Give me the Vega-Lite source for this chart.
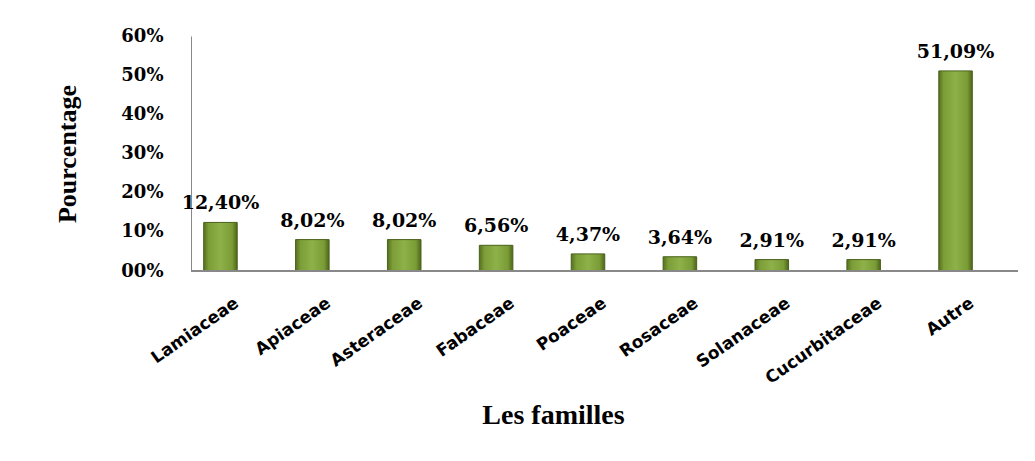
{
  "$schema": "https://vega.github.io/schema/vega-lite/v6.json",
  "width": 827,
  "height": 235,
  "autosize": "none",
  "padding": {"left": 191, "top": 36, "right": 17, "bottom": 190},
  "background": "white",
  "config": {"view": {"stroke": null}},
  "data": {
    "values": [
      {"family": "Lamiaceae", "value": 0.1240, "label": "12,40%"},
      {"family": "Apiaceae", "value": 0.0802, "label": "8,02%"},
      {"family": "Asteraceae", "value": 0.0802, "label": "8,02%"},
      {"family": "Fabaceae", "value": 0.0656, "label": "6,56%"},
      {"family": "Poaceae", "value": 0.0437, "label": "4,37%"},
      {"family": "Rosaceae", "value": 0.0364, "label": "3,64%"},
      {"family": "Solanaceae", "value": 0.0291, "label": "2,91%"},
      {"family": "Cucurbitaceae", "value": 0.0291, "label": "2,91%"},
      {"family": "Autre", "value": 0.5109, "label": "51,09%"}
    ]
  },
  "encoding": {
    "x": {
      "field": "family",
      "type": "nominal",
      "sort": null,
      "scale": {"paddingInner": 0.635, "paddingOuter": 0.3175},
      "axis": {
        "title": "Les familles",
        "titleFont": "Liberation Serif",
        "titleFontSize": 28,
        "titleFontWeight": "bold",
        "titleColor": "black",
        "titleX": 362,
        "titleY": 152,
        "titleAlign": "center",
        "titleBaseline": "alphabetic",
        "domain": false,
        "ticks": false,
        "labelAngle": -35,
        "labelAlign": "right",
        "labelBaseline": "middle",
        "labelFont": "DejaVu Sans",
        "labelFontWeight": "bold",
        "labelFontSize": 17,
        "labelColor": "black",
        "labelOverlap": false,
        "labelPadding": 30
      }
    },
    "y": {
      "field": "value",
      "type": "quantitative",
      "scale": {"domain": [0, 0.6]},
      "axis": {
        "values": [0, 0.1, 0.2, 0.3, 0.4, 0.5, 0.6],
        "labelExpr": "datum.value == 0 ? '00%' : format(datum.value, '.0%')",
        "labelOverlap": false,
        "grid": false,
        "ticks": false,
        "domain": true,
        "domainColor": "#888888",
        "domainWidth": 1,
        "labelFont": "DejaVu Serif",
        "labelFontWeight": "bold",
        "labelFontSize": 18,
        "labelColor": "black",
        "labelPadding": 28,
        "title": "Pourcentage",
        "titleFont": "Liberation Serif",
        "titleFontSize": 26,
        "titleFontWeight": "bold",
        "titleColor": "black",
        "titleAngle": 270,
        "titleX": -124,
        "titleY": 117.5,
        "titleAlign": "center",
        "titleBaseline": "middle"
      }
    }
  },
  "layer": [
    {
      "mark": {
        "type": "bar",
        "xOffset": -16.5,
        "stroke": "#4a611b",
        "strokeWidth": 1,
        "fill": {
          "gradient": "linear",
          "x1": 0, "y1": 0, "x2": 1, "y2": 0,
          "stops": [
            {"offset": 0, "color": "#55701f"},
            {"offset": 0.15, "color": "#7c9d37"},
            {"offset": 0.5, "color": "#8eb149"},
            {"offset": 0.85, "color": "#7a9b35"},
            {"offset": 1, "color": "#4c661b"}
          ]
        }
      }
    },
    {
      "mark": {
        "type": "text",
        "dx": -16.5,
        "dy": -13,
        "baseline": "alphabetic",
        "align": "center",
        "font": "DejaVu Serif",
        "fontWeight": "bold",
        "fontSize": 19,
        "color": "black"
      },
      "encoding": {
        "text": {"field": "label"}
      }
    },
    {
      "mark": {"type": "rule", "color": "#888888", "strokeWidth": 1},
      "encoding": {"y": {"datum": 0}, "x": null}
    }
  ]
}
